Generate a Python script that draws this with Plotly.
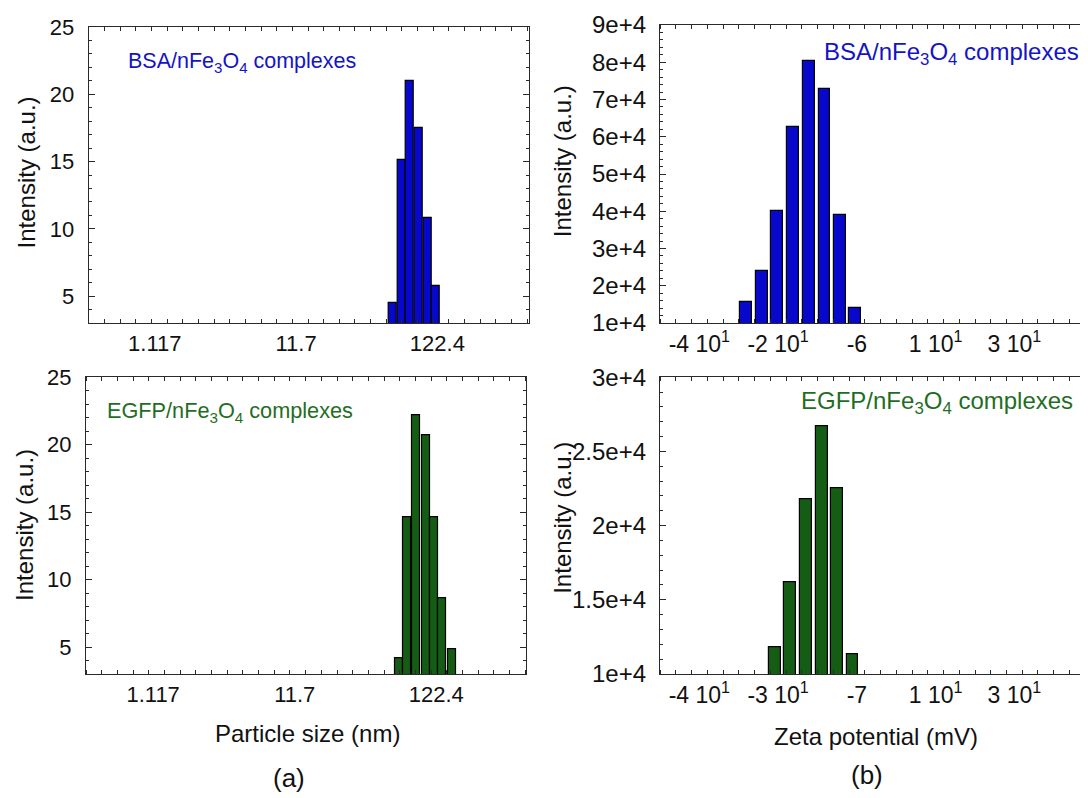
import numpy as np
import plotly.graph_objects as go

# ---------------- data ----------------
bsa_size_nm = [58.1, 67.6, 77.4, 90.5, 104.2, 118.8]
bsa_size_int = [4.46, 15.1, 21.0, 17.5, 10.8, 5.74]

egfp_size_nm = [65.6, 76.0, 87.9, 102.9, 118.3, 135.8, 158.5]
egfp_size_int = [4.16, 14.6, 22.2, 20.7, 14.6, 8.65, 4.85]

bsa_zeta_mv = [-28.2, -24.1, -20.2, -16.2, -12.2, -8.2, -4.3, -0.4]
bsa_zeta_int = [15600, 23900, 40200, 62600, 80300, 72900, 39000, 13900]

egfp_zeta_mv = [-20.8, -16.9, -12.9, -8.8, -5.0, -1.1]
egfp_zeta_int = [11800, 16200, 21800, 26700, 22500, 11300]

size_tick_vals = [1.117, 11.7, 122.4]
size_tick_text = ["1.117", "11.7", "122.4"]
size_y_ticks = [5, 10, 15, 20, 25]

zeta_tick_vals = [-40, -20, 0, 20, 40]
bsa_zeta_tick_text = ["-4 10<sup>1</sup>", "-2 10<sup>1</sup>", "-6", "1 10<sup>1</sup>", "3 10<sup>1</sup>"]
egfp_zeta_tick_text = ["-4 10<sup>1</sup>", "-3 10<sup>1</sup>", "-7", "1 10<sup>1</sup>", "3 10<sup>1</sup>"]

bsa_zeta_y_ticks = [10000, 20000, 30000, 40000, 50000, 60000, 70000, 80000, 90000]
bsa_zeta_y_text = ["1e+4", "2e+4", "3e+4", "4e+4", "5e+4", "6e+4", "7e+4", "8e+4", "9e+4"]
egfp_zeta_y_ticks = [10000, 15000, 20000, 25000, 30000]
egfp_zeta_y_text = ["1e+4", "1.5e+4", "2e+4", "2.5e+4", "3e+4"]

# ---------------- styling ----------------
OFF = 8                     # page offset of the plot div (browser body margin)
W, H = 1088 - OFF, 798 - OFF
FONT = "Arial, Liberation Sans, sans-serif"
BLUE_BAR = "#0808cc"
BLUE_TXT = "#1414c4"
GREEN_BAR = "#155c15"
GREEN_TXT = "#1f6e1f"
AX = "#2a2a2a"


def px(x):
    return (x - OFF) / W


def py(y):
    return 1 - (y - OFF) / H


fig = go.Figure()

fig.add_trace(go.Bar(x=np.log10(bsa_size_nm), y=bsa_size_int, width=0.058,
                     marker=dict(color=BLUE_BAR, line=dict(color="black", width=1.2)),
                     xaxis="x", yaxis="y", showlegend=False))
fig.add_trace(go.Bar(x=bsa_zeta_mv, y=bsa_zeta_int, width=3.0,
                     marker=dict(color=BLUE_BAR, line=dict(color="black", width=1.2)),
                     xaxis="x2", yaxis="y2", showlegend=False))
fig.add_trace(go.Bar(x=np.log10(egfp_size_nm), y=egfp_size_int, width=0.058,
                     marker=dict(color=GREEN_BAR, line=dict(color="black", width=1.2)),
                     xaxis="x3", yaxis="y3", showlegend=False))
fig.add_trace(go.Bar(x=egfp_zeta_mv, y=egfp_zeta_int, width=3.0,
                     marker=dict(color=GREEN_BAR, line=dict(color="black", width=1.2)),
                     xaxis="x4", yaxis="y4", showlegend=False))


def base_axis(fs):
    return dict(showline=True, linecolor=AX, linewidth=1.3, showgrid=False, zeroline=False,
                tickcolor=AX, tickwidth=1, fixedrange=True, automargin=False,
                tickfont=dict(family=FONT, size=fs, color="#111111"))


def size_x(domain, rng, anchor):
    d = base_axis(22)
    d.update(domain=domain, range=rng, anchor=anchor, tickmode="array",
             tickvals=list(np.log10(size_tick_vals)), ticktext=size_tick_text,
             ticks="", mirror="allticks", ticklabelstandoff=0,
             minor=dict(ticks="inside", ticklen=4, tickcolor=AX, tick0=rng[0],
                        dtick=0.113, showgrid=False))
    return d


def zeta_x(domain, rng, texts, anchor):
    d = base_axis(23)
    d.update(domain=domain, range=rng, anchor=anchor, tickmode="array",
             tickvals=zeta_tick_vals, ticktext=texts, ticks="", mirror="allticks",
             ticklabelstandoff=0,
             minor=dict(ticks="inside", ticklen=4, tickcolor=AX, tick0=-50, dtick=4,
                        showgrid=False))
    return d


def y_axis(domain, rng, vals, texts, minor_dt, anchor, mirror, fs, standoff):
    d = base_axis(fs)
    d.update(domain=domain, range=rng, anchor=anchor, tickmode="array",
             tickvals=vals, ticktext=texts, ticks="inside", ticklen=6,
             mirror=mirror, ticklabelstandoff=standoff,
             minor=dict(ticks="inside", ticklen=3, tickcolor=AX, dtick=minor_dt,
                        tick0=0, showgrid=False))
    return d


ZR = [-50, 58.7]

fig.update_layout(
    width=W, height=H,
    margin=dict(l=0, r=0, t=0, b=0, autoexpand=False),
    paper_bgcolor="white", plot_bgcolor="white",
    bargap=0,
    xaxis=size_x([px(88.8), px(529)], [-0.428, 2.749], "y"),
    yaxis=y_axis([py(323), py(27)], [3, 25], size_y_ticks, [str(v) for v in size_y_ticks],
                 1, "x", "allticks", 22, 9),
    xaxis2=zeta_x([px(660), 1.0], ZR, bsa_zeta_tick_text, "y2"),
    yaxis2=y_axis([py(323), py(25)], [10000, 90000], bsa_zeta_y_ticks, bsa_zeta_y_text,
                  2000, "x2", False, 24, 8),
    xaxis3=size_x([px(86.1), px(525.8)], [-0.435, 2.733], "y3"),
    yaxis3=y_axis([py(674), py(377.3)], [3, 25], size_y_ticks, [str(v) for v in size_y_ticks],
                  1, "x3", "allticks", 22, 9),
    xaxis4=zeta_x([px(660), 1.0], ZR, egfp_zeta_tick_text, "y4"),
    yaxis4=y_axis([py(674), py(377.3)], [10000, 30000], egfp_zeta_y_ticks, egfp_zeta_y_text,
                  1000, "x4", False, 24, 8),
)

ann = []


def add_text(text, x, y, size, color="#111111", angle=0, xanchor="center"):
    ann.append(dict(text=text, x=px(x), y=py(y), xref="paper", yref="paper",
                    xanchor=xanchor, yanchor="middle", showarrow=False, textangle=angle,
                    font=dict(family=FONT, size=size, color=color)))


label_sub = "nFe<sub>3</sub>O<sub>4</sub> complexes"
add_text("BSA/" + label_sub, 125.7, 62, 21.5, BLUE_TXT, xanchor="left")
add_text("BSA/" + label_sub, 822, 54, 24, BLUE_TXT, xanchor="left")
add_text("EGFP/" + label_sub, 105, 412, 21.7, GREEN_TXT, xanchor="left")
add_text("EGFP/" + label_sub, 799.4, 402, 24, GREEN_TXT, xanchor="left")

add_text("Intensity (a.u.)", 26, 172.5, 24, angle=-90)
add_text("Intensity (a.u.)", 24, 525, 24, angle=-90)
add_text("Intensity (a.u.)", 562.5, 161.7, 24, angle=-90)
add_text("Intensity (a.u.)", 562.5, 518.3, 24, angle=-90)

add_text("Particle size (nm)", 307, 733, 24)
add_text("Zeta potential (mV)", 875.5, 736.7, 24)
add_text("(a)", 289, 778, 26)
add_text("(b)", 867, 775, 26)

fig.update_layout(annotations=ann)

fig.write_html("out.html")
